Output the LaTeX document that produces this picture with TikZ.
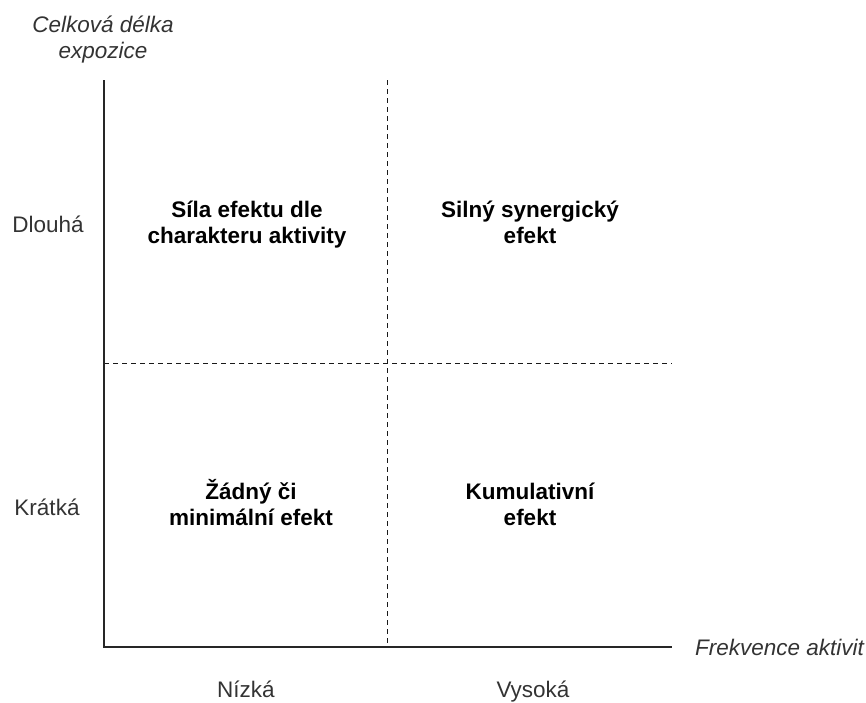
\documentclass[tikz,border=0pt]{standalone}
\usepackage{fontspec}
\setmainfont{Liberation Sans}
\begin{document}
\begin{tikzpicture}[x=1pt,y=-1pt,
  axis/.style={line width=1.4pt, draw=black!85},
  grid/.style={line width=0.9pt, draw=black!90, dash pattern=on 5pt off 4pt},
  lbl/.style={text=black!80, font=\fontsize{22.5}{26}\selectfont, align=center, inner sep=0pt, anchor=base},
  axlbl/.style={lbl, font=\fontsize{22.5}{26}\selectfont\itshape},
  quad/.style={text=black, font=\fontsize{22.5}{25.5}\selectfont\bfseries, align=center, inner sep=0pt, anchor=base}]
  \useasboundingbox (0,0) rectangle (866,702);
  % frame corners
  \coordinate (origin) at (104,647);
  \coordinate (ytop) at (104,80);
  \coordinate (xend) at (672,647);
  \coordinate (midtop) at (387,80);
  \coordinate (midbot) at (387,647);
  \coordinate (midleft) at (104,363);
  \coordinate (midright) at (672,363);
  % dividers
  \draw[grid] (midtop) -- (midbot);
  \draw[grid] (midleft) -- (midright);
  % axes
  \draw[axis] (ytop) -- (origin) -- (xend);
  % axis titles (base anchor sits on the last line)
  \node[axlbl] (ytitle) at (103,58) {Celková délka\\expozice};
  \node[axlbl, anchor=base west] (xtitle) at (695,655) {Frekvence aktivit};
  % category labels
  \node[lbl] (long) at (48,232) {Dlouhá};
  \node[lbl] (short) at (47,515) {Krátká};
  \node[lbl] (low) at (246,697) {Nízká};
  \node[lbl] (high) at (533,697) {Vysoká};
  % quadrant texts
  \node[quad] (q1) at (247,243) {Síla efektu dle\\charakteru aktivity};
  \node[quad] (q2) at (530,243) {Silný synergický\\efekt};
  \node[quad] (q3) at (251,525) {Žádný či\\minimální efekt};
  \node[quad] (q4) at (530,525) {Kumulativní\\efekt};
\end{tikzpicture}
\end{document}
